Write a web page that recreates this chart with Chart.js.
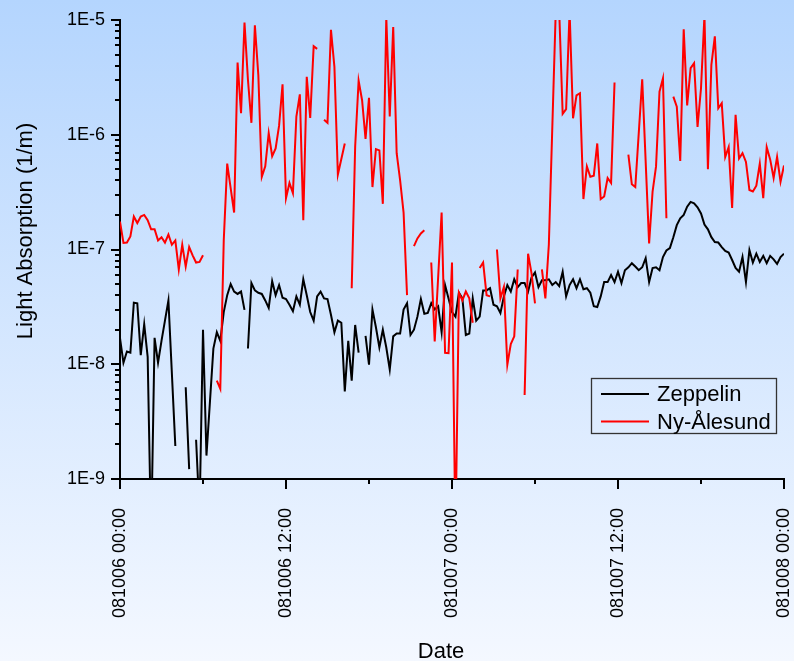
<!DOCTYPE html>
<html><head><meta charset="utf-8">
<script src="https://cdn.jsdelivr.net/npm/chart.js@4.4.1/dist/chart.umd.min.js"></script>
<style>
html,body{margin:0;padding:0;}
#wrap{width:794px;height:661px;background:linear-gradient(to bottom,#B4D5FE 0%,#F4F8FF 100%);}
canvas{display:block;}
</style></head><body>
<div id="wrap"><canvas id="c" width="794" height="661"></canvas></div>
<script>
const FONT = '"Liberation Sans", Arial, Helvetica, sans-serif';

// X axis: hours since 081006 00:00
const xTickHours  = [0, 12, 24, 36, 48];
const xTickLabels = ['081006 00:00', '081006 12:00', '081007 00:00', '081007 12:00', '081008 00:00'];
const xMinorHours = [6, 18, 30, 42];
const yTickValues = [1e-9, 1e-8, 1e-7, 1e-6, 1e-5];
const yTickLabels = ['1E-9', '1E-8', '1E-7', '1E-6', '1E-5'];
const seriesNames = ['Zeppelin', 'Ny-Ålesund'];
const xTitle = 'Date';
const yTitle = 'Light Absorption (1/m)';

const zepHours = [0,0.25,0.5,0.75,1,1.25,1.5,1.75,2,2.25,2.5,2.75,3,3.25,3.5,4,4.5,4.75,5,5.25,5.5,5.75,6,6.25,6.75,7,7.25,7.5,7.75,8,8.25,8.5,8.75,9,9.125,9.25,9.5,9.75,10,10.25,10.5,10.75,11,11.25,11.5,11.75,12,12.25,12.5,12.75,13,13.25,13.5,13.75,14,14.25,14.5,14.75,15,15.25,15.5,15.75,16,16.25,16.5,16.75,17,17.25,17.5,17.75,18,18.25,18.5,18.75,19,19.25,19.5,19.75,20,20.25,20.5,20.75,21,21.25,21.5,21.75,22,22.25,22.5,22.75,23,23.25,23.5,23.75,24,24.25,24.5,24.75,25,25.25,25.5,25.75,26,26.25,26.5,26.75,27,27.25,27.5,27.75,28,28.25,28.5,28.75,29,29.25,29.5,29.75,30,30.25,30.5,30.75,31,31.25,31.5,31.75,32,32.25,32.5,32.75,33,33.25,33.5,33.75,34,34.25,34.5,34.75,35,35.25,35.5,35.75,36,36.25,36.5,36.75,37,37.25,37.5,37.75,38,38.25,38.5,38.75,39,39.25,39.5,39.75,40,40.25,40.5,40.75,41,41.25,41.5,41.75,42,42.25,42.5,42.75,43,43.25,43.5,43.75,44,44.25,44.5,44.75,45,45.25,45.5,45.75,46,46.25,46.5,46.75,47,47.25,47.5,47.75,48];
const zepValues = [1.69e-8,1.03e-8,1.29e-8,1.26e-8,3.44e-8,3.4e-8,1.2e-8,2.23e-8,1.16e-8,3e-10,1.7e-8,1.03e-8,1.6e-8,2.4e-8,3.6e-8,1.94e-9,null,6.3e-9,1.22e-9,null,2.2e-9,5e-10,2.0e-8,1.6e-9,1.37e-8,1.9e-8,1.6e-8,2.85e-8,4.0e-8,5.0e-8,4.3e-8,4.1e-8,4.3e-8,2.98e-8,null,1.37e-8,5.1e-8,4.4e-8,4.2e-8,4.1e-8,3.6e-8,3.1e-8,5.3e-8,4.0e-8,4.9e-8,3.8e-8,3.7e-8,3.3e-8,2.9e-8,3.9e-8,3.3e-8,5.5e-8,4.0e-8,2.85e-8,2.4e-8,3.9e-8,4.3e-8,3.75e-8,3.7e-8,2.7e-8,1.9e-8,2.4e-8,2.3e-8,5.8e-9,1.6e-8,7.2e-9,2.2e-8,1.26e-8,null,1.77e-8,9.9e-9,3.0e-8,2.1e-8,1.4e-8,2.0e-8,1.4e-8,9.0e-9,1.75e-8,1.85e-8,1.85e-8,3.0e-8,3.4e-8,1.8e-8,2.0e-8,2.6e-8,3.7e-8,2.75e-8,2.8e-8,3.4e-8,3.0e-8,3.2e-8,1.9e-8,4.9e-8,3.75e-8,2.85e-8,2.6e-8,4.2e-8,3.75e-8,1.8e-8,1.85e-8,3.75e-8,2.4e-8,2.6e-8,4.4e-8,4.4e-8,4.6e-8,3.3e-8,3.2e-8,2.8e-8,3.9e-8,4.9e-8,4.3e-8,5.5e-8,4.7e-8,5.1e-8,5.1e-8,4.3e-8,5.7e-8,6.3e-8,4.7e-8,5.4e-8,5.4e-8,5.5e-8,4.9e-8,5.2e-8,4.8e-8,6.4e-8,3.9e-8,4.9e-8,5.5e-8,4.6e-8,5.5e-8,4.5e-8,4.6e-8,4.2e-8,3.2e-8,3.15e-8,3.9e-8,5.2e-8,5.2e-8,6.0e-8,5.2e-8,6.4e-8,5.1e-8,6.6e-8,7.0e-8,7.6e-8,7.1e-8,6.6e-8,7.0e-8,8.4e-8,5.2e-8,6.9e-8,7.0e-8,6.6e-8,8.6e-8,9.8e-8,1.03e-7,1.28e-7,1.63e-7,1.87e-7,2.0e-7,2.36e-7,2.6e-7,2.53e-7,2.33e-7,2.06e-7,1.65e-7,1.5e-7,1.28e-7,1.16e-7,1.15e-7,1.05e-7,9.7e-8,9.4e-8,8.1e-8,6.9e-8,6.4e-8,8.6e-8,5.2e-8,9.9e-8,7.7e-8,9.2e-8,7.8e-8,8.8e-8,7.6e-8,8.8e-8,8.2e-8,7.5e-8,8.6e-8,9.2e-8];

const nyHours = [0,0.25,0.5,0.75,1,1.25,1.5,1.75,2,2.25,2.5,2.75,3,3.25,3.5,3.75,4,4.25,4.5,4.75,5,5.25,5.5,5.75,6,6.5,7,7.25,7.5,7.75,8.25,8.5,8.75,9,9.25,9.5,9.75,10,10.25,10.5,10.75,11,11.25,11.5,11.75,12,12.25,12.5,12.75,13,13.25,13.5,13.75,14,14.25,14.5,14.75,15,15.25,15.5,15.75,16.25,16.5,16.75,17,17.25,17.5,17.75,18,18.25,18.5,18.75,19,19.25,19.5,19.75,20,20.25,20.5,20.75,21,21.25,21.5,21.75,22,22.25,22.5,22.75,23.25,23.5,23.75,24,24.25,24.5,24.75,25,25.25,25.5,25.75,26,26.25,26.5,26.75,27,27.25,27.5,27.75,28,28.25,28.5,28.75,29,29.25,29.5,29.75,30,30.25,30.5,30.75,31,31.5,31.75,32,32.25,32.5,32.75,33,33.25,33.5,33.75,34,34.25,34.5,34.75,35,35.25,35.5,35.75,36.25,36.75,37,37.25,37.75,38.25,38.5,38.75,39,39.25,39.5,39.75,40,40.25,40.5,40.75,41,41.25,41.5,41.75,42,42.25,42.5,42.75,43,43.25,43.5,43.75,44,44.25,44.5,44.75,45,45.25,45.5,45.75,46,46.25,46.5,46.75,47,47.25,47.5,47.75,48];
const nyValues = [1.75e-7,1.14e-7,1.15e-7,1.3e-7,1.94e-7,1.7e-7,1.94e-7,2.0e-7,1.8e-7,1.5e-7,1.5e-7,1.2e-7,1.28e-7,1.15e-7,1.35e-7,1.1e-7,1.2e-7,6.7e-8,1.1e-7,7.1e-8,1.05e-7,8.9e-8,7.7e-8,7.8e-8,8.9e-8,null,7.2e-9,6.1e-9,1.2e-7,5.6e-7,2.1e-7,4.25e-6,1.54e-6,9.5e-6,3.0e-6,1.27e-6,9.0e-6,3.3e-6,4.3e-7,5.3e-7,1.03e-6,6.5e-7,7.6e-7,1.2e-6,2.75e-6,2.8e-7,3.8e-7,3.1e-7,1.44e-6,2.25e-6,1.8e-7,3.2e-6,1.4e-6,5.9e-6,5.6e-6,null,1.35e-6,1.27e-6,8.2e-6,3.9e-6,4.5e-7,8.4e-7,null,4.6e-8,7.9e-7,2.96e-6,2.0e-6,9.2e-7,2.1e-6,3.5e-7,7.5e-7,7.3e-7,2.5e-7,1.05e-5,1.44e-6,8.7e-6,6.9e-7,4.0e-7,2.1e-7,4.0e-8,null,1.07e-7,1.25e-7,1.38e-7,1.47e-7,null,7.7e-8,1.58e-8,2.1e-7,1.26e-8,1.25e-8,7.7e-8,3e-10,4.2e-8,3.6e-8,4.3e-8,3.75e-8,2.3e-8,null,6.9e-8,7.7e-8,4.0e-8,3.9e-8,null,1.0e-7,3.75e-8,4.7e-8,9.9e-9,1.5e-8,1.75e-8,6.7e-8,null,5.4e-9,9.2e-8,6.2e-8,3.4e-8,null,6.7e-8,3.75e-8,1.1e-7,1.2e-5,1.2e-5,1.52e-6,1.67e-6,1.2e-5,1.39e-6,2.2e-6,2.3e-6,2.75e-7,5.3e-7,4.3e-7,4.4e-7,8.4e-7,2.75e-7,2.9e-7,4.2e-7,3.8e-7,2.85e-6,null,6.7e-7,3.7e-7,3.5e-7,3.04e-6,1.13e-7,3.2e-7,5.3e-7,2.37e-6,3.1e-6,1.87e-7,null,2.15e-6,1.76e-6,5.9e-7,8.3e-6,1.8e-6,3.8e-6,4.2e-6,1.17e-6,2.54e-6,1.1e-5,5.0e-7,4.06e-6,7.2e-6,1.7e-6,1.88e-6,6.4e-7,7.8e-7,2.3e-7,1.49e-6,6.2e-7,6.9e-7,5.8e-7,3.3e-7,3.2e-7,3.6e-7,5.6e-7,2.8e-7,7.8e-7,6.1e-7,4.2e-7,6.4e-7,3.9e-7,5.4e-7];

const seriesColors = ['#000000', '#FF0000'];

function toPoints(hours, values) {
  return hours.map((h, i) => ({ x: h, y: values[i] }));
}

const axisDecor = {
  id: 'axisDecor',
  afterDraw(chart) {
    const { ctx, chartArea } = chart;
    const xs = chart.scales.x, ys = chart.scales.y;
    ctx.save();
    ctx.strokeStyle = '#000';
    ctx.lineWidth = 2;
    ctx.beginPath();
    for (let e = -9; e <= -5; e++) {
      for (let m = 1; m <= 9; m++) {
        const v = m * Math.pow(10, e);
        if (v > 1.0001e-5) break;
        const py = Math.round(ys.getPixelForValue(v));
        const len = (m === 1) ? 9 : 5;
        ctx.moveTo(chartArea.left - len, py);
        ctx.lineTo(chartArea.left, py);
      }
    }
    xTickHours.forEach(h => {
      const px = Math.round(xs.getPixelForValue(h));
      ctx.moveTo(px, chartArea.bottom);
      ctx.lineTo(px, chartArea.bottom + 10);
    });
    xMinorHours.forEach(h => {
      const px = Math.round(xs.getPixelForValue(h));
      ctx.moveTo(px, chartArea.bottom);
      ctx.lineTo(px, chartArea.bottom + 5);
    });
    ctx.stroke();

    // axis titles
    ctx.fillStyle = '#000';
    ctx.font = '22px ' + FONT;
    ctx.textAlign = 'center';
    ctx.textBaseline = 'middle';
    ctx.fillText(xTitle, chartArea.left + 321, 652);
    ctx.save();
    ctx.translate(26, chartArea.top + 211);
    ctx.rotate(-Math.PI / 2);
    ctx.fillText(yTitle, 0, 0);
    ctx.restore();

    // legend box
    const bx = chartArea.right - 193, by = chartArea.bottom - 101, bw = 185, bh = 55;
    ctx.lineWidth = 1.3;
    ctx.strokeStyle = '#333';
    ctx.strokeRect(bx + 0.5, by + 0.5, bw, bh);
    ctx.textAlign = 'left';
    chart.data.datasets.forEach((ds, i) => {
      const ly = by + 16 + i * 27.5;
      ctx.strokeStyle = ds.borderColor;
      ctx.lineWidth = 2;
      ctx.beginPath();
      ctx.moveTo(bx + 10, ly);
      ctx.lineTo(bx + 58, ly);
      ctx.stroke();
      ctx.fillStyle = '#000';
      ctx.fillText(ds.label, bx + 66, ly + 1);
    });
    ctx.restore();
  }
};

new Chart(document.getElementById('c'), {
  type: 'line',
  data: {
    datasets: [
      { label: seriesNames[0], data: toPoints(zepHours, zepValues), borderColor: seriesColors[0], borderWidth: 2, pointRadius: 0, tension: 0, fill: false, spanGaps: false, order: 1 },
      { label: seriesNames[1], data: toPoints(nyHours, nyValues), borderColor: seriesColors[1], borderWidth: 2, pointRadius: 0, tension: 0, fill: false, spanGaps: false, order: 0 }
    ]
  },
  options: {
    responsive: false,
    animation: false,
    devicePixelRatio: 1,
    layout: { padding: { left: 0, right: 10, top: 20, bottom: 0 } },
    plugins: { legend: { display: false }, tooltip: { enabled: false } },
    scales: {
      x: {
        type: 'linear', min: 0, max: 48,
        grid: { display: false, drawTicks: false },
        border: { display: true, color: '#000', width: 2 },
        afterBuildTicks(scale) { scale.ticks = xTickHours.map(v => ({ value: v })); },
        afterFit(scale) { scale.height = 182; scale.paddingLeft = 0; scale.paddingRight = 0; scale.paddingTop = 0; scale.paddingBottom = 0; },
        ticks: {
          autoSkip: false, minRotation: 90, maxRotation: 90, padding: 29,
          color: '#000', font: { family: FONT, size: 18 },
          callback: (v, i) => xTickLabels[i]
        },
        title: { display: false }
      },
      y: {
        type: 'logarithmic', min: 1e-9, max: 1e-5,
        grid: { display: false, drawTicks: false },
        border: { display: true, color: '#000', width: 2 },
        afterBuildTicks(scale) { scale.ticks = yTickValues.map(v => ({ value: v, major: true })); },
        afterFit(scale) { scale.width = 120; scale.paddingLeft = 0; scale.paddingRight = 0; scale.paddingTop = 0; scale.paddingBottom = 0; },
        ticks: {
          autoSkip: false, padding: 15,
          color: '#000', font: { family: FONT, size: 18 },
          callback: (v, i) => yTickLabels[i]
        },
        title: { display: false }
      }
    }
  },
  plugins: [axisDecor]
});
</script>
</body></html>
